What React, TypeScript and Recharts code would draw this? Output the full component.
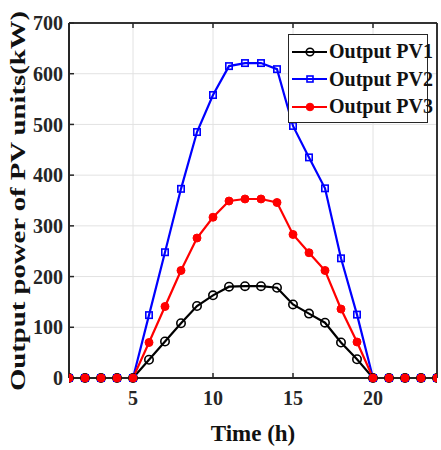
import React from 'react';
import { LineChart, Line, XAxis, YAxis, CartesianGrid, ReferenceLine } from 'recharts';

const hours = [1, 2, 3, 4, 5, 6, 7, 8, 9, 10, 11, 12, 13, 14, 15, 16, 17, 18, 19, 20, 21, 22, 23, 24];
const pv1 = [0, 0, 0, 0, 0, 36, 72, 108, 142, 163, 180, 181, 181, 178, 145, 127, 109, 70, 37, 0, 0, 0, 0, 0];
const pv2 = [0, 0, 0, 0, 0, 124, 248, 373, 485, 558, 615, 621, 621, 609, 497, 435, 374, 236, 125, 0, 0, 0, 0, 0];
const pv3 = [0, 0, 0, 0, 0, 70, 141, 212, 276, 317, 349, 353, 353, 346, 283, 247, 212, 136, 71, 0, 0, 0, 0, 0];

const xTicks = [5, 10, 15, 20];
const yTicks = [0, 100, 200, 300, 400, 500, 600, 700];
const xDomain = [1, 24];
const yDomain = [0, 700];

const seriesNames = ['Output PV1', 'Output PV2', 'Output PV3'];

const data = hours.map((h, i) => ({ h, pv1: pv1[i], pv2: pv2[i], pv3: pv3[i] }));

const FONT = '"Liberation Serif", "Times New Roman", serif';
const INK = '#262626';
const GRID = '#e2e2e2';

const squareDot = (props: any) => {
  const { cx, cy, index } = props;
  return (
    <rect
      key={`sq-${index}`}
      x={cx - 3.2}
      y={cy - 3.2}
      width={6.4}
      height={6.4}
      fill="none"
      stroke="#0000ff"
      strokeWidth={1.6}
    />
  );
};

const NoTick = () => <g />;

function LegendBox() {
  const rows = [
    { name: seriesNames[0], color: '#000000', mark: 'circle' },
    { name: seriesNames[1], color: '#0000ff', mark: 'square' },
    { name: seriesNames[2], color: '#ff0000', mark: 'dot' },
  ];
  return (
    <div
      style={{
        position: 'absolute',
        left: 288,
        top: 34,
        border: `1.5px solid ${INK}`,
        background: '#fff',
        width: 140,
        height: 89,
        boxSizing: 'border-box',
        paddingTop: 3,
      }}
    >
      {rows.map((r) => (
        <div key={r.name} style={{ display: 'flex', alignItems: 'center', height: 27.5 }}>
          <svg width={38} height={14} style={{ marginLeft: 2, flex: 'none' }}>
            <line x1={1} y1={7} x2={36} y2={7} stroke={r.color} strokeWidth={2.2} />
            {r.mark === 'circle' && <circle cx={19} cy={7} r={3.8} fill="none" stroke={r.color} strokeWidth={1.6} />}
            {r.mark === 'square' && (
              <rect x={16} y={4} width={6} height={6} fill="none" stroke={r.color} strokeWidth={1.6} />
            )}
            {r.mark === 'dot' && <circle cx={19} cy={7} r={3.8} fill={r.color} stroke={r.color} />}
          </svg>
          <span style={{ fontFamily: FONT, fontWeight: 'bold', fontSize: 20, color: '#111', whiteSpace: 'nowrap' }}>
            {r.name}
          </span>
        </div>
      ))}
    </div>
  );
}

const YTitle = () => (
  <text
    x={17}
    y={201}
    transform="rotate(-90 17 201)"
    textAnchor="middle"
    dominantBaseline="central"
    fontFamily={FONT}
    fontWeight="bold"
    fontSize={22}
    fill="#111"
    textLength={380}
    lengthAdjust="spacingAndGlyphs"
  >
    Output power of PV units(kW)
  </text>
);

export default function App() {
  const tickStyle = { fontFamily: FONT, fontWeight: 'bold' as const, fontSize: 20, fill: INK };
  return (
    <div style={{ position: 'absolute', left: 0, top: 0, width: 441, height: 450, background: '#fff' }}>
      <LineChart width={441} height={450} data={data} margin={{ top: 22, right: 3, bottom: 0, left: 0 }}>
        <CartesianGrid xAxisId="b" yAxisId="l" stroke={GRID} strokeWidth={1} vertical={false} />
        {xTicks.map((t) => (
          <ReferenceLine key={`vx-${t}`} xAxisId="b" yAxisId="l" x={t} stroke={GRID} strokeWidth={1} />
        ))}
        <ReferenceLine xAxisId="b" yAxisId="l" y={yDomain[1]} stroke={INK} strokeWidth={1.5} />
        <ReferenceLine xAxisId="b" yAxisId="l" x={xDomain[1]} stroke={INK} strokeWidth={1.5} />
        <XAxis
          xAxisId="b"
          dataKey="h"
          type="number"
          domain={xDomain}
          ticks={xTicks}
          height={72}
          tickSize={-5}
          tickMargin={18}
          axisLine={{ stroke: INK, strokeWidth: 2 }}
          tickLine={{ stroke: INK, strokeWidth: 1.5 }}
          tick={tickStyle}
          allowDataOverflow
          label={{
            value: 'Time (h)',
            position: 'insideBottom',
            offset: 9,
            style: { fontFamily: FONT, fontWeight: 'bold', fontSize: 23, fill: '#111' },
          }}
        />
        <XAxis
          xAxisId="t"
          orientation="top"
          dataKey="h"
          type="number"
          domain={xDomain}
          ticks={xTicks}
          height={1}
          tickSize={-5}
          tick={NoTick}
          axisLine={{ stroke: INK, strokeWidth: 1.5 }}
          tickLine={{ stroke: INK, strokeWidth: 1.5 }}
        />
        <YAxis
          yAxisId="l"
          type="number"
          domain={yDomain}
          ticks={yTicks}
          width={69}
          tickSize={-5}
          tickMargin={11}
          axisLine={{ stroke: INK, strokeWidth: 2 }}
          tickLine={{ stroke: INK, strokeWidth: 1.5 }}
          tick={tickStyle}
          label={{ content: () => <YTitle /> }}
        />
        <YAxis
          yAxisId="r"
          orientation="right"
          type="number"
          domain={yDomain}
          ticks={yTicks}
          width={1}
          tickSize={-5}
          tick={NoTick}
          axisLine={{ stroke: INK, strokeWidth: 1.5 }}
          tickLine={{ stroke: INK, strokeWidth: 1.5 }}
        />
        <Line
          xAxisId="b"
          yAxisId="l"
          dataKey="pv1"
          name={seriesNames[0]}
          stroke="#000000"
          strokeWidth={2.2}
          dot={{ r: 4.2, fill: 'none', stroke: '#000000', strokeWidth: 1.6 }}
          isAnimationActive={false}
        />
        <Line
          xAxisId="b"
          yAxisId="l"
          dataKey="pv2"
          name={seriesNames[1]}
          stroke="#0000ff"
          strokeWidth={2.2}
          dot={squareDot}
          isAnimationActive={false}
        />
        <Line
          xAxisId="b"
          yAxisId="l"
          dataKey="pv3"
          name={seriesNames[2]}
          stroke="#ff0000"
          strokeWidth={2.2}
          dot={{ r: 4, fill: '#ff0000', stroke: '#ff0000', strokeWidth: 1 }}
          isAnimationActive={false}
        />
      </LineChart>
      <LegendBox />
    </div>
  );
}
